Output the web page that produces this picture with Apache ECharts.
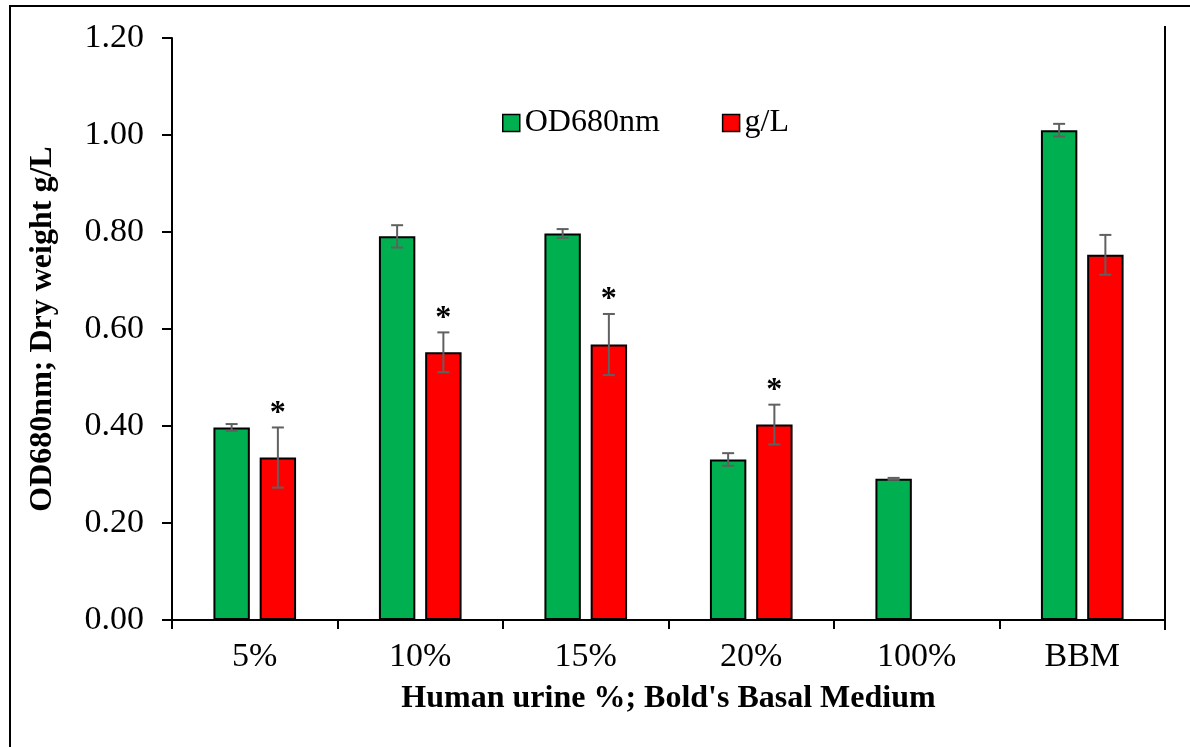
<!DOCTYPE html>
<html>
<head>
<meta charset="utf-8">
<script src="https://cdn.jsdelivr.net/npm/echarts@6/dist/echarts.min.js"></script>
<style>
  html, body { margin: 0; padding: 0; background: #fff; }
  #chart { width: 1190px; height: 747px; }
</style>
</head>
<body>
<div id="chart"></div>
<script>
// data
var categories = ['5%', '10%', '15%', '20%', '100%', 'BBM'];
var od680 = [0.397, 0.791, 0.797, 0.331, 0.291, 1.010];
var od680Err = [0.007, 0.023, 0.009, 0.013, 0.002, 0.013];
var dryWeight = [0.335, 0.552, 0.568, 0.403, 0, 0.753];
var dryWeightErr = [0.062, 0.041, 0.063, 0.041, 0, 0.041];
var significant = [true, true, true, true, false, false];
var yTicks = [0, 0.2, 0.4, 0.6, 0.8, 1.0, 1.2];

var FONT = "Liberation Serif";
var BAR_W = 0.22;   // fraction of band
var BAR_GAP = 0.27; // fraction of bar width

// error bar items: [category index, value, error, side(-1 green / 1 red), star]
var errData = [];
categories.forEach(function (c, i) {
    errData.push([i, od680[i], od680Err[i], -1, 0]);
    errData.push([i, dryWeight[i], dryWeightErr[i], 1, significant[i] ? 1 : 0]);
});

function renderErr(params, api) {
    var i = api.value(0), v = api.value(1), e = api.value(2), side = api.value(3), star = api.value(4);
    var band = api.size([1, 0])[0];
    var bw = band * BAR_W;
    var off = side * (bw + bw * BAR_GAP) / 2;
    var top = api.coord([i, v + e]);
    var bot = api.coord([i, v - e]);
    var x = top[0] + off;
    var cap = 6;
    var style = { stroke: '#606060', lineWidth: 2 };
    var children = [];
    if (e > 0) {
        children.push(
            { type: 'line', shape: { x1: x, y1: top[1], x2: x, y2: bot[1] }, style: style },
            { type: 'line', shape: { x1: x - cap, y1: top[1], x2: x + cap, y2: top[1] }, style: style },
            { type: 'line', shape: { x1: x - cap, y1: bot[1], x2: x + cap, y2: bot[1] }, style: style }
        );
    }
    if (star) {
        children.push({
            type: 'text',
            style: {
                x: x, y: top[1] - 14, text: '*', fill: '#000',
                font: 'bold 32px "Liberation Serif"', align: 'center', verticalAlign: 'middle'
            }
        });
    }
    return { type: 'group', children: children };
}

var chart = echarts.init(document.getElementById('chart'));
chart.setOption({
    animation: false,
    backgroundColor: '#fff',
    textStyle: { fontFamily: FONT, color: '#000' },
    grid: { left: 172, right: 25, top: 38, bottom: 127 },
    legend: {
        left: 497, top: 102,
        itemWidth: 17, itemHeight: 17, itemGap: 62,
        textStyle: { fontFamily: FONT, fontSize: 32, color: '#000' },
        data: [
            { name: 'OD680nm', icon: 'rect', itemStyle: { color: '#00B050', borderColor: '#000', borderWidth: 1.5 } },
            { name: 'g/L', icon: 'rect', itemStyle: { color: '#FF0000', borderColor: '#000', borderWidth: 1.5 } }
        ]
    },
    xAxis: {
        type: 'category',
        data: categories,
        name: "Human urine %; Bold's Basal Medium",
        nameLocation: 'middle',
        nameGap: 63,
        nameTextStyle: { fontFamily: FONT, fontSize: 32, fontWeight: 'bold', color: '#000' },
        axisLine: { lineStyle: { color: '#000', width: 2 } },
        axisTick: { show: true, length: 9, lineStyle: { color: '#000', width: 2 } },
        axisLabel: { fontFamily: FONT, fontSize: 34, color: '#000', margin: 20 }
    },
    yAxis: {
        type: 'value',
        min: yTicks[0], max: yTicks[yTicks.length - 1], interval: 0.2,
        name: 'OD680nm; Dry weight g/L',
        nameLocation: 'middle',
        nameGap: 113,
        nameTextStyle: { fontFamily: FONT, fontSize: 32, fontWeight: 'bold', color: '#000' },
        splitLine: { show: false },
        axisLine: { show: true, lineStyle: { color: '#000', width: 2 } },
        axisTick: { show: true, length: 10, lineStyle: { color: '#000', width: 2 } },
        axisLabel: {
            fontFamily: FONT, fontSize: 34, color: '#000', margin: 28,
            formatter: function (v) { return v.toFixed(2); }
        }
    },
    series: [
        {
            name: 'OD680nm', type: 'bar', data: od680,
            barWidth: (BAR_W * 100) + '%', barGap: (BAR_GAP * 100) + '%',
            itemStyle: { color: '#00B050', borderColor: '#000', borderWidth: 2 }
        },
        {
            name: 'g/L', type: 'bar', data: dryWeight,
            barWidth: (BAR_W * 100) + '%', barGap: (BAR_GAP * 100) + '%',
            itemStyle: { color: '#FF0000', borderColor: '#000', borderWidth: 2 }
        },
        {
            type: 'custom', renderItem: renderErr, data: errData,
            encode: { x: 0, y: 1 }, z: 5, silent: true
        }
    ],
    graphic: [
        { type: 'rect', shape: { x: 10, y: 6, width: 1200, height: 760 }, style: { fill: 'none', stroke: '#000', lineWidth: 2 }, silent: true },
        { type: 'line', shape: { x1: 1165, y1: 26, x2: 1165, y2: 630 }, style: { stroke: '#000', lineWidth: 2 }, silent: true }
    ]
});
</script>
</body>
</html>
